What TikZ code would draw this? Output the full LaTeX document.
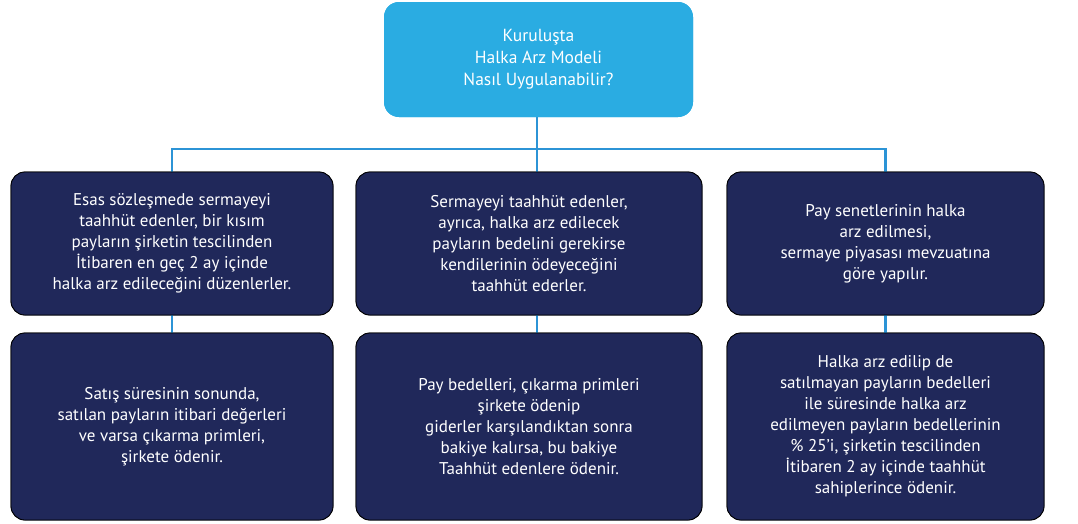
\documentclass[tikz,border=0pt]{standalone}
\usepackage{fontspec}
\setmainfont{PT Sans}
\definecolor{topblue}{RGB}{42,172,226}
\definecolor{linkblue}{RGB}{44,148,214}
\definecolor{navy}{RGB}{32,40,90}
\begin{document}
\begin{tikzpicture}[x=1pt,y=-1pt,
  topbox/.style={fill=topblue, draw=none, rounded corners=15pt, text=white, align=center,
    font=\fontsize{17.5}{22}\selectfont, minimum width=309pt, minimum height=115pt, inner sep=0pt},
  navybox/.style={fill=navy, draw=black, line width=0.8pt, rounded corners=14pt, text=white, align=center,
    font=\fontsize{17}{21}\selectfont, inner sep=0pt},
  rowone/.style={navybox, minimum height=143pt},
  rowtwo/.style={navybox, minimum height=187pt},
  conn/.style={draw=linkblue, line width=2.2pt}]
\useasboundingbox (0,0) rectangle (1078,523);
% box outlines first (their names fix the connector ends)
\node[topbox] (top) at (538.5,59.5) {};
\node[rowone, minimum width=322pt] (r1l) at (172,243.5) {};
\node[rowone, minimum width=346pt] (r1m) at (529,243.5) {};
\node[rowone, minimum width=317pt] (r1r) at (885.5,243.5) {};
\node[rowtwo, minimum width=322pt] (r2l) at (172,426.5) {};
\node[rowtwo, minimum width=346pt] (r2m) at (529,426.5) {};
\node[rowtwo, minimum width=317pt] (r2r) at (885.5,426.5) {};
\coordinate (bus) at (537,149);
% connectors
\draw[conn] (bus |- top.south) -- (bus |- r1m.north);
\draw[conn] (r1l.north) |- (bus) -| (r1r.north);
\draw[conn] (r1l.south) -- (r2l.north);
\draw[conn] (bus |- r1m.south) -- (bus |- r2m.north);
\draw[conn] (r1r.south) -- (r2r.north);
% boxes with their texts, over the connectors
\node[topbox] at (top) {Kuruluşta\\Halka Arz Modeli\\Nasıl Uygulanabilir?};
\node[rowone, minimum width=322pt] at (r1l) {Esas sözleşmede sermayeyi\\taahhüt edenler, bir kısım\\payların şirketin tescilinden\\İtibaren en geç 2 ay içinde\\halka arz edileceğini düzenlerler.};
\node[rowone, minimum width=346pt] at (r1m) {Sermayeyi taahhüt edenler,\\ayrıca, halka arz edilecek\\payların bedelini gerekirse\\kendilerinin ödeyeceğini\\taahhüt ederler.};
\node[rowone, minimum width=317pt] at (r1r) {Pay senetlerinin halka\\arz edilmesi,\\sermaye piyasası mevzuatına\\göre yapılır.};
\node[rowtwo, minimum width=322pt] at (r2l) {\raisebox{6pt}{\begin{tabular}{@{}c@{}}Satış süresinin sonunda,\\satılan payların itibari değerleri\\ve varsa çıkarma primleri,\\şirkete ödenir.\end{tabular}}};
\node[rowtwo, minimum width=346pt] at (r2m) {Pay bedelleri, çıkarma primleri\\şirkete ödenip\\giderler karşılandıktan sonra\\bakiye kalırsa, bu bakiye\\Taahhüt edenlere ödenir.};
\node[rowtwo, minimum width=317pt] at (r2r) {Halka arz edilip de\\satılmayan payların bedelleri\\ile süresinde halka arz\\edilmeyen payların bedellerinin\\\% 25’i, şirketin tescilinden\\İtibaren 2 ay içinde taahhüt\\sahiplerince ödenir.};
\end{tikzpicture}
\end{document}
